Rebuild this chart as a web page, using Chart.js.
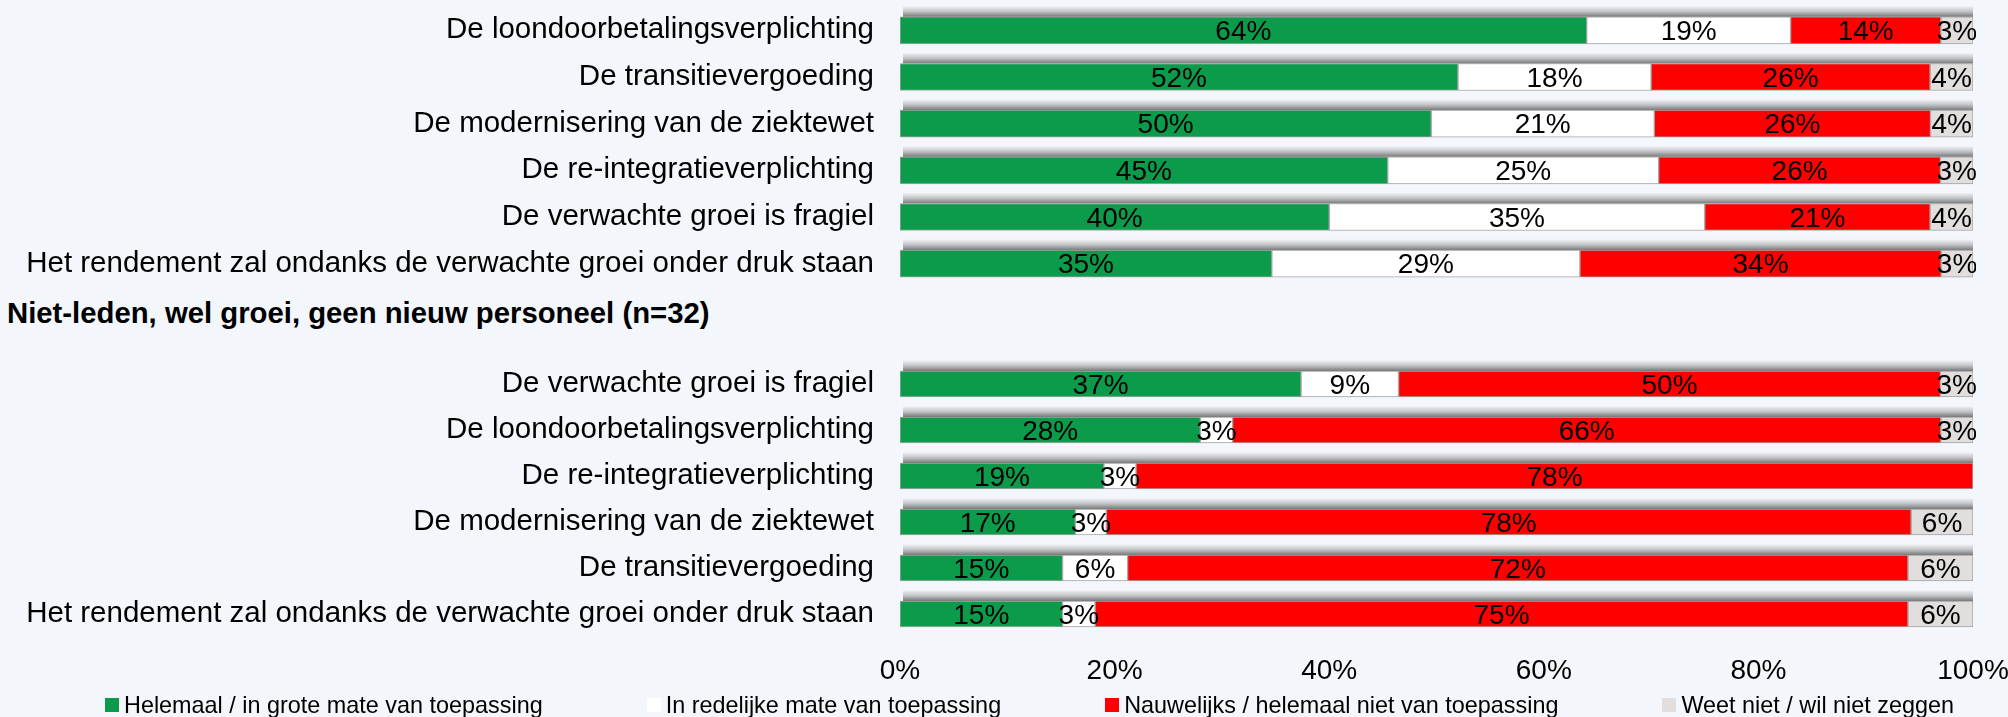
<!DOCTYPE html>
<html>
<head>
<meta charset="utf-8">
<script src="https://cdn.jsdelivr.net/npm/chart.js@4.4.1/dist/chart.umd.min.js"></script>
<style>
  html, body { margin: 0; padding: 0; background: #f3f6fa; }
  body { width: 2008px; height: 717px; position: relative; overflow: hidden; font-family: "Liberation Sans", Arial, sans-serif; }
  #wrap-top { position: absolute; left: 0; top: 0; width: 2008px; height: 287px; }
  #wrap-bottom { position: absolute; left: 0; top: 360px; width: 2008px; height: 338px; }
  #subtitle { position: absolute; left: 7px; top: 296px; font-size: 29.3px; font-weight: bold; color: #000; line-height: 34px; white-space: nowrap; }
  #legend { position: absolute; left: 105px; top: 691px; display: flex; gap: 104px; font-size: 23.4px; line-height: 28px; color: #000; white-space: nowrap; }
  #legend .item { display: flex; align-items: center; }
  #legend .box { width: 14px; height: 14px; margin-right: 5px; }
</style>
</head>
<body>
<div id="wrap-top"><canvas id="chart-top"></canvas></div>
<div id="subtitle">Niet-leden, wel groei, geen nieuw personeel (n=32)</div>
<div id="wrap-bottom"><canvas id="chart-bottom"></canvas></div>
<div id="legend"></div>

<script>
// Categories and answers (percentages as labelled in the picture)
const categoriesTop = [
    'De loondoorbetalingsverplichting',
    'De transitievergoeding',
    'De modernisering van de ziektewet',
    'De re-integratieverplichting',
    'De verwachte groei is fragiel',
    'Het rendement zal ondanks de verwachte groei onder druk staan'
];
const helemaalTop   = [64, 52, 50, 45, 40, 35];
const redelijkTop   = [19, 18, 21, 25, 35, 29];
const nauwelijksTop = [14, 26, 26, 26, 21, 34];
const weetNietTop   = [3, 4, 4, 3, 4, 3];

const categoriesBottom = [
    'De verwachte groei is fragiel',
    'De loondoorbetalingsverplichting',
    'De re-integratieverplichting',
    'De modernisering van de ziektewet',
    'De transitievergoeding',
    'Het rendement zal ondanks de verwachte groei onder druk staan'
];
const helemaalBottom   = [37, 28, 19, 17, 15, 15];
const redelijkBottom   = [9, 3, 3, 3, 6, 3];
const nauwelijksBottom = [50, 66, 78, 78, 72, 75];
const weetNietBottom   = [3, 3, 0, 6, 6, 6];

const seriesLabels = [
    'Helemaal / in grote mate van toepassing',
    'In redelijke mate van toepassing',
    'Nauwelijks / helemaal niet van toepassing',
    'Weet niet / wil niet zeggen'
];
const seriesColors = ['#0b9b4a', '#ffffff', '#ff0000', '#e1dedd'];
const xTicks = [0, 20, 40, 60, 80, 100];

Chart.defaults.font.family = '"Liberation Sans", Arial, sans-serif';
Chart.defaults.color = '#000';

// 100% stacked: every row is scaled to its own total
function buildDatasets(series) {
    const totals = series[0].map((_, j) => series.reduce((s, arr) => s + arr[j], 0));
    return series.map((arr, i) => ({
        label: seriesLabels[i],
        raw: arr,
        data: arr.map((v, j) => v / totals[j] * 100),
        backgroundColor: seriesColors[i],
        borderColor: '#a4a4a4',
        borderWidth: 1,
        borderSkipped: false
    }));
}

// grey shadow above each bar row
const barShadow = {
    id: 'barShadow',
    beforeDatasetsDraw(chart) {
        const ctx = chart.ctx;
        const x0 = chart.scales.x.getPixelForValue(0);
        const x1 = chart.scales.x.getPixelForValue(100);
        const meta = chart.getDatasetMeta(0);
        ctx.save();
        meta.data.forEach(bar => {
            const top = bar.y - bar.height / 2;
            const g = ctx.createLinearGradient(0, top - 11, 0, top);
            g.addColorStop(0, 'rgba(115,115,115,0)');
            g.addColorStop(0.5, 'rgba(115,115,115,0.38)');
            g.addColorStop(1, 'rgba(105,105,105,0.9)');
            ctx.fillStyle = g;
            ctx.fillRect(x0 + 3, top - 11, x1 - x0 - 3, 11);
        });
        ctx.restore();
    }
};

// percentage labels centred in every segment
const segmentLabels = {
    id: 'segmentLabels',
    afterDatasetsDraw(chart) {
        const ctx = chart.ctx;
        const area = chart.chartArea;
        ctx.save();
        ctx.beginPath();
        ctx.rect(area.left, area.top - 20, area.right - area.left + 3, area.bottom - area.top + 40);
        ctx.clip();
        ctx.font = '28px "Liberation Sans", Arial, sans-serif';
        ctx.fillStyle = '#000';
        ctx.textAlign = 'center';
        ctx.textBaseline = 'middle';
        chart.data.datasets.forEach((ds, i) => {
            chart.getDatasetMeta(i).data.forEach((bar, j) => {
                const v = ds.raw[j];
                if (!v) return;
                ctx.fillText(v + '%', (bar.x + bar.base) / 2, bar.y + 2);
            });
        });
        ctx.restore();
    }
};

function makeChart(canvasId, categories, series, showAxis, thickness, padTop) {
    return new Chart(document.getElementById(canvasId), {
        type: 'bar',
        data: {
            labels: categories,
            datasets: buildDatasets(series)
        },
        options: {
            indexAxis: 'y',
            responsive: true,
            maintainAspectRatio: false,
            animation: false,
            layout: { padding: { top: padTop, right: 35, bottom: 0, left: 0 } },
            plugins: {
                legend: { display: false },
                tooltip: { enabled: false }
            },
            datasets: { bar: { barThickness: thickness } },
            scales: {
                x: {
                    display: showAxis,
                    stacked: true,
                    min: 0,
                    max: 100,
                    afterBuildTicks: scale => { scale.ticks = xTicks.map(v => ({ value: v })); },
                    afterFit: scale => {
                        scale.height = showAxis ? 61 : 0;
                        scale.paddingLeft = 0;
                        scale.paddingRight = 0;
                    },
                    grid: { display: false, drawTicks: false },
                    border: { display: false },
                    ticks: {
                        padding: 17,
                        maxRotation: 0,
                        font: { size: 28 },
                        callback: v => v + '%'
                    }
                },
                y: {
                    stacked: true,
                    afterFit: scale => {
                        scale.width = 900;
                        scale.paddingTop = 0;
                        scale.paddingBottom = 0;
                    },
                    grid: { display: false, drawTicks: false },
                    border: { display: false },
                    ticks: {
                        padding: 26,
                        autoSkip: false,
                        font: { size: 29.5 }
                    }
                }
            }
        },
        plugins: [barShadow, segmentLabels]
    });
}

makeChart('chart-top', categoriesTop,
    [helemaalTop, redelijkTop, nauwelijksTop, weetNietTop], false, 27, 7);
makeChart('chart-bottom', categoriesBottom,
    [helemaalBottom, redelijkBottom, nauwelijksBottom, weetNietBottom], true, 26, 1);

// legend row under the axis
const legendEl = document.getElementById('legend');
seriesLabels.forEach((label, i) => {
    const item = document.createElement('div');
    item.className = 'item';
    const box = document.createElement('span');
    box.className = 'box';
    box.style.background = seriesColors[i];
    const txt = document.createElement('span');
    txt.textContent = label;
    item.appendChild(box);
    item.appendChild(txt);
    legendEl.appendChild(item);
});
</script>
</body>
</html>
